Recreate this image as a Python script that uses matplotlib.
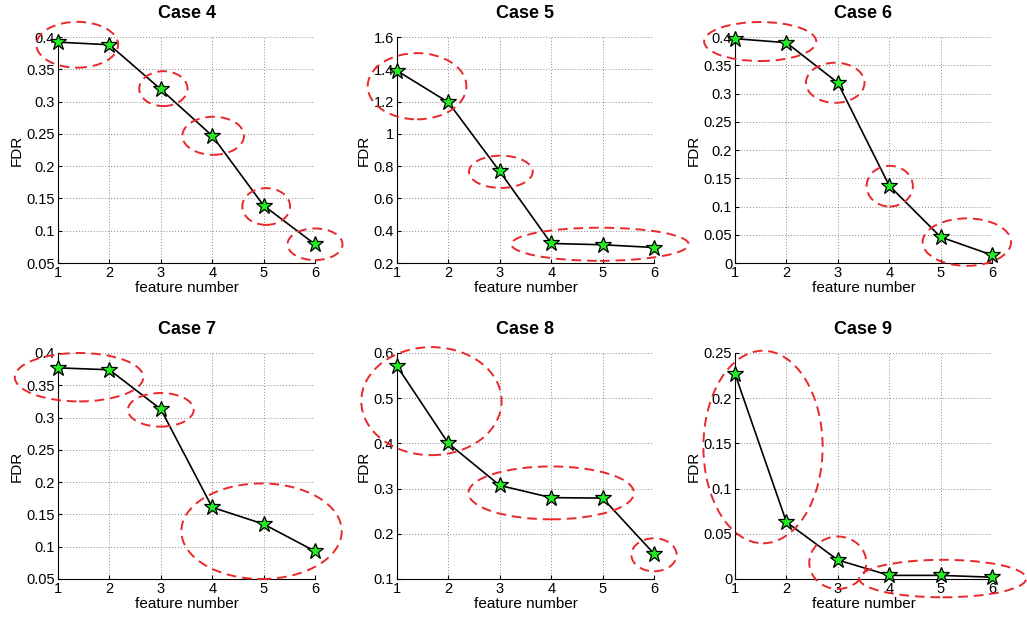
import matplotlib
matplotlib.use("Agg")
import matplotlib.pyplot as plt
from matplotlib.patches import Ellipse
from matplotlib.ticker import FuncFormatter
import numpy as np

plt.rcParams['font.family'] = ['Liberation Sans', 'DejaVu Sans']

features = [1, 2, 3, 4, 5, 6]
titles = ["Case 4", "Case 5", "Case 6", "Case 7", "Case 8", "Case 9"]

fdr_case4 = [0.392, 0.388, 0.319, 0.247, 0.139, 0.079]
fdr_case5 = [1.391, 1.195, 0.767, 0.321, 0.313, 0.296]
fdr_case6 = [0.397, 0.390, 0.319, 0.137, 0.046, 0.014]
fdr_case7 = [0.377, 0.374, 0.313, 0.161, 0.135, 0.093]
fdr_case8 = [0.571, 0.400, 0.307, 0.280, 0.279, 0.156]
fdr_case9 = [0.227, 0.063, 0.021, 0.004, 0.004, 0.002]
series = [fdr_case4, fdr_case5, fdr_case6, fdr_case7, fdr_case8, fdr_case9]

yticks4 = [0.05, 0.1, 0.15, 0.2, 0.25, 0.3, 0.35, 0.4]
yticks5 = [0.2, 0.4, 0.6, 0.8, 1.0, 1.2, 1.4, 1.6]
yticks6 = [0, 0.05, 0.1, 0.15, 0.2, 0.25, 0.3, 0.35, 0.4]
yticks7 = [0.05, 0.1, 0.15, 0.2, 0.25, 0.3, 0.35, 0.4]
yticks8 = [0.1, 0.2, 0.3, 0.4, 0.5, 0.6]
yticks9 = [0, 0.05, 0.1, 0.15, 0.2, 0.25]
yticks_all = [yticks4, yticks5, yticks6, yticks7, yticks8, yticks9]

# highlighted groups: (center x, center y, width, height) in data units
ell4 = [(1.375, 0.388, 1.59, 0.071), (3.05, 0.320, 0.94, 0.054), (4.02, 0.247, 1.2, 0.059),
        (5.05, 0.1375, 0.93, 0.057), (6.0, 0.079, 1.07, 0.049)]
ell5 = [(1.39, 1.295, 1.92, 0.41), (3.02, 0.765, 1.24, 0.2), (4.95, 0.316, 3.45, 0.205)]
ell6 = [(1.49, 0.392, 2.18, 0.069), (2.95, 0.319, 1.14, 0.071), (4.01, 0.136, 0.9, 0.072),
        (5.51, 0.037, 1.72, 0.084)]
ell7 = [(1.41, 0.3625, 2.5, 0.075), (3.0, 0.312, 1.28, 0.052), (4.96, 0.124, 3.12, 0.148)]
ell8 = [(1.67, 0.4935, 2.73, 0.239), (4.0, 0.2905, 3.22, 0.117), (6.0, 0.1535, 0.88, 0.073)]
ell9 = [(1.545, 0.146, 2.32, 0.213), (3.0, 0.018, 1.11, 0.058), (5.04, 0.0005, 3.25, 0.0415)]
ellipses_all = [ell4, ell5, ell6, ell7, ell8, ell9]

fig = plt.figure(figsize=(10.27, 6.23), dpi=100)
lefts = [58, 397, 735]
tops = [37, 353]
W, H = 257, 226
fmt = FuncFormatter(lambda v, p: ("%g" % round(v, 4)))

for i in range(6):
    r, c = divmod(i, 3)
    ax = fig.add_axes([lefts[c] / 1027, 1 - (tops[r] + H) / 623, W / 1027, H / 623])
    yt = yticks_all[i]
    ax.set_xlim(1, 6)
    ax.set_ylim(yt[0], yt[-1])
    ax.set_xticks(features)
    ax.set_yticks(yt)
    ax.yaxis.set_major_formatter(fmt)
    ax.grid(True, linestyle=(0, (1, 2)), color='#8a8a8a', linewidth=0.7)
    ax.set_axisbelow(True)
    ax.spines['top'].set_visible(False)
    ax.spines['right'].set_visible(False)
    ax.tick_params(direction='in', length=3, labelsize=10.5, pad=2, colors='black')
    ax.plot(features, series[i], color='black', linewidth=1.2, marker='*',
            markersize=12, markerfacecolor='#22ee22', markeredgecolor='black',
            markeredgewidth=0.9, zorder=3, clip_on=False)
    for (cx, cy, w, h) in ellipses_all[i]:
        e = Ellipse((cx, cy), w, h, fill=False, edgecolor='#e8282c', linewidth=1.4,
                    linestyle=(0, (5, 3)), clip_on=False, zorder=4)
        ax.add_patch(e)
    ax.set_title(titles[i], fontsize=13, fontweight='bold', pad=14)
    ax.set_xlabel("feature number", fontsize=11, labelpad=1)
    ax.set_ylabel("FDR", fontsize=11, labelpad=2)

fig.savefig("out.png", dpi=100)
